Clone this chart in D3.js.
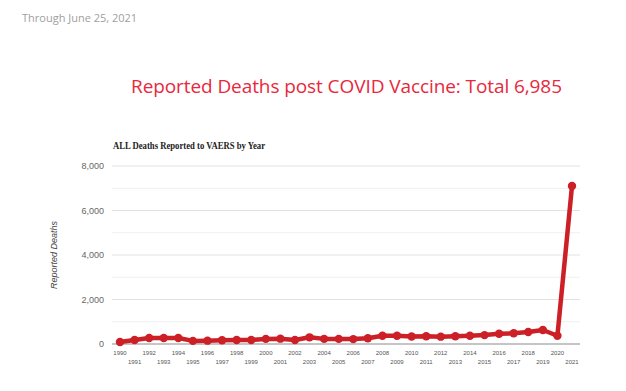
<!DOCTYPE html>
<html>
<head>
<meta charset="utf-8">
<script src="https://cdn.jsdelivr.net/npm/d3@7"></script>
<style>
  body { margin: 0; background: #fff; }
  svg { display: block; }
</style>
</head>
<body>
<div id="chart"></div>
<script>
// Data
var years = d3.range(1990, 2022);
var deaths = [90, 180, 270, 270, 270, 140, 150, 170, 180, 180,
              230, 240, 180, 300, 230, 230, 220, 260, 370, 370,
              340, 350, 330, 350, 370, 400, 460, 480, 540, 630,
              370, 7100];
var yTicks = [0, 2000, 4000, 6000, 8000];
var yGrid = d3.range(0, 9000, 1000);

var width = 626, height = 391;
var svg = d3.select("#chart").append("svg")
    .attr("width", width)
    .attr("height", height);

// Page header
svg.append("text")
    .attr("x", 22).attr("y", 22)
    .text("Through June 25, 2021")
    .style("font-family", "Open Sans")
    .style("font-size", "11px")
    .attr("fill", "#a0a0a0");

svg.append("text")
    .attr("x", 131).attr("y", 93)
    .text("Reported Deaths post COVID Vaccine: Total 6,985")
    .style("font-family", "Open Sans")
    .style("font-size", "19px")
    .attr("textLength", 431)
    .attr("fill", "#e8283c");

// Chart title
svg.append("text")
    .attr("x", 113).attr("y", 149)
    .text("ALL Deaths Reported to VAERS by Year")
    .style("font-family", "Liberation Serif")
    .style("font-weight", "bold")
    .style("font-size", "10px")
    .attr("textLength", 152)
    .attr("lengthAdjust", "spacingAndGlyphs")
    .attr("fill", "#222");

// Scales
var x = d3.scaleLinear().domain([1990, 2021]).range([120, 572]);
var y = d3.scaleLinear().domain([0, 8000]).range([344, 166]);

// Gridlines
svg.append("g").selectAll("line")
    .data(yGrid)
    .enter()
    .append("line")
    .attr("x1", 112).attr("x2", 580)
    .attr("y1", function (d) { return y(d); })
    .attr("y2", function (d) { return y(d); })
    .attr("stroke", function (d) { return d % 2000 === 0 ? "#e2e2e2" : "#efefef"; })
    .attr("stroke-width", 1);

// Baseline
svg.append("line")
    .attr("x1", 112).attr("x2", 580)
    .attr("y1", y(0)).attr("y2", y(0))
    .attr("stroke", "#999").attr("stroke-width", 1.2);

// Y axis labels
svg.append("g").selectAll("text")
    .data(yTicks)
    .enter()
    .append("text")
    .attr("x", 104)
    .attr("y", function (d) { return y(d) + 3; })
    .attr("text-anchor", "end")
    .text(function (d) { return d3.format(",")(d); })
    .style("font-family", "Liberation Sans")
    .style("font-size", "9px")
    .attr("fill", "#666");

svg.append("text")
    .attr("transform", "translate(57," + 255 + ") rotate(-90)")
    .attr("text-anchor", "middle")
    .text("Reported Deaths")
    .style("font-family", "Liberation Sans")
    .style("font-style", "italic")
    .style("font-size", "9px")
    .attr("fill", "#444");

// X axis labels, staggered in two rows
svg.append("g").selectAll("text")
    .data(years)
    .enter()
    .append("text")
    .attr("x", function (d) { return x(d); })
    .attr("y", function (d) { return d % 2 === 0 ? 355 : 364; })
    .attr("text-anchor", "middle")
    .text(function (d) { return d; })
    .style("font-family", "Liberation Sans")
    .style("font-size", "6px")
    .attr("fill", "#555");

// Line and points
var line = d3.line()
    .x(function (d, i) { return x(years[i]); })
    .y(function (d) { return y(d); });

svg.append("path")
    .datum(deaths)
    .attr("d", line)
    .attr("fill", "none")
    .attr("stroke", "#cc1f26")
    .attr("stroke-width", 4.5)
    .attr("stroke-linejoin", "round");

svg.append("g").selectAll("circle")
    .data(deaths)
    .enter()
    .append("circle")
    .attr("cx", function (d, i) { return x(years[i]); })
    .attr("cy", function (d) { return y(d); })
    .attr("r", 4.2)
    .attr("fill", "#cc1f26");
</script>
</body>
</html>
